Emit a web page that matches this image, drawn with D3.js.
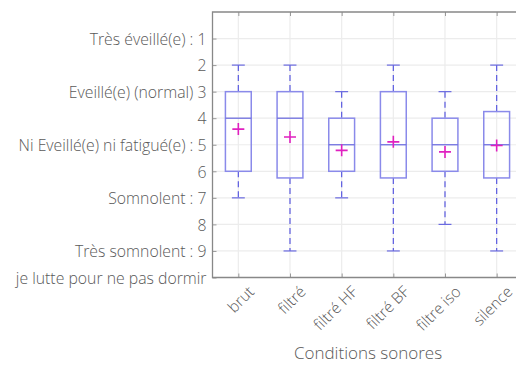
<!DOCTYPE html>
<html><head><meta charset="utf-8">
<script src="https://cdn.jsdelivr.net/npm/d3@7"></script>
<style>body{margin:0;background:#fff;} text{font-family:"Open Sans","Segoe UI",sans-serif;font-weight:300;}</style>
</head><body>
<svg id="c" width="516" height="365"></svg>
<script>
const categories = ["brut","filtré","filtré HF","filtré BF","filtre iso","silence"];
const whiskerLow  = [2,2,3,2,3,2];
const q1          = [3,3,4,3,4,3.75];
const median      = [4,4,5,5,5,5];
const q3          = [6,6.25,6,6.25,6,6.25];
const whiskerHigh = [7,9,7,9,8,9];
const means       = [4.41,4.71,5.21,4.89,5.27,5.03];
const yTickValues = [1,2,3,4,5,6,7,8,9,10];
const yTickLabels = ["Très éveillé(e) : 1","2","Eveillé(e) (normal) 3","4","Ni Eveillé(e) ni fatigué(e) : 5","6","Somnolent : 7","8","Très somnolent : 9","je lutte pour ne pas dormir"];

const svg = d3.select("#c");
const pL = 212.5, pT = 12, pB = 277.5, pR = 522.5;
const x = d3.scaleLinear().domain([0.5, 6.5]).range([pL, pR]);
const y = d3.scaleLinear().domain([0, 10]).range([pT, pB]);
const data = categories.map((c,i)=>({c,i:i+1,lo:whiskerLow[i],q1:q1[i],med:median[i],q3:q3[i],hi:whiskerHigh[i],mean:means[i]}));

const g = svg.append("g");
// grid
g.selectAll(".gy").data(d3.range(1,10)).join("line")
  .attr("x1",pL).attr("x2",pR).attr("y1",d=>y(d)).attr("y2",d=>y(d))
  .attr("stroke","#ececec").attr("stroke-width",1.2);
g.selectAll(".gx").data(data).join("line")
  .attr("x1",d=>x(d.i)).attr("x2",d=>x(d.i)).attr("y1",pT).attr("y2",pB)
  .attr("stroke","#ececec").attr("stroke-width",1.2);

// axes
const yAxis = d3.axisLeft(y).tickValues(yTickValues).tickFormat((d,i)=>yTickLabels[i]).tickSize(-4).tickPadding(6);
const ya = svg.append("g").attr("transform",`translate(${pL},0)`).call(yAxis);
ya.select(".domain").remove();
ya.selectAll(".tick line").attr("stroke","#999");
ya.selectAll(".tick text").attr("fill","#595959").style("font-size","15.8px").attr("dy","0.36em");

const xAxis = d3.axisBottom(x).tickValues(data.map(d=>d.i)).tickFormat((d)=>categories[d-1]).tickSize(-4).tickPadding(8);
const xa = svg.append("g").attr("transform",`translate(0,${pB})`).call(xAxis);
xa.select(".domain").remove();
xa.selectAll(".tick line").attr("stroke","#999");
xa.selectAll(".tick text").attr("fill","#595959").style("font-size","15.5px")
  .attr("text-anchor","end").attr("dx","0.05em").attr("dy","0.6em")
  .attr("transform","rotate(-45)").attr("y",13);

const xt = svg.append("g").attr("transform",`translate(0,${pT})`).call(d3.axisTop(x).tickValues(data.map(d=>d.i)).tickSize(-4).tickFormat(""));
xt.select(".domain").remove();
xt.selectAll(".tick line").attr("stroke","#999");

// frame
svg.append("path").attr("d",`M${pR},${pT}H${pL}V${pB}H${pR}`)
  .attr("fill","none").attr("stroke","#888").attr("stroke-width",1.3);

// boxes
const bw = 0.25;
const b = svg.append("g");
data.forEach(d=>{
  b.append("line").attr("x1",x(d.i)).attr("x2",x(d.i)).attr("y1",y(d.lo)).attr("y2",y(d.q1))
    .attr("stroke","#5a5ae0").attr("stroke-width",1.2).attr("stroke-dasharray","6,4");
  b.append("line").attr("x1",x(d.i)).attr("x2",x(d.i)).attr("y1",y(d.q3)).attr("y2",y(d.hi))
    .attr("stroke","#5a5ae0").attr("stroke-width",1.2).attr("stroke-dasharray","6,4");
  [d.lo,d.hi].forEach(v=>b.append("line").attr("x1",x(d.i-0.125)).attr("x2",x(d.i+0.125))
    .attr("y1",y(v)).attr("y2",y(v)).attr("stroke","#6a6ae0").attr("stroke-width",1.2));
  b.append("rect").attr("x",x(d.i-bw)).attr("width",x(d.i+bw)-x(d.i-bw))
    .attr("y",y(d.q1)).attr("height",y(d.q3)-y(d.q1))
    .attr("fill","none").attr("stroke","#8a8aea").attr("stroke-width",1.5);
  b.append("line").attr("x1",x(d.i-bw)).attr("x2",x(d.i+bw)).attr("y1",y(d.med)).attr("y2",y(d.med))
    .attr("stroke","#7070e0").attr("stroke-width",1.3);
  b.append("path").attr("d",`M${x(d.i)-6},${y(d.mean)}h12M${x(d.i)},${y(d.mean)-6}v12`)
    .attr("stroke","#e020c0").attr("stroke-width",1.6);
});

svg.append("text").attr("x",368).attr("y",359).attr("text-anchor","middle")
  .attr("fill","#595959").style("font-size","17px").text("Conditions sonores");
</script>
</body></html>
